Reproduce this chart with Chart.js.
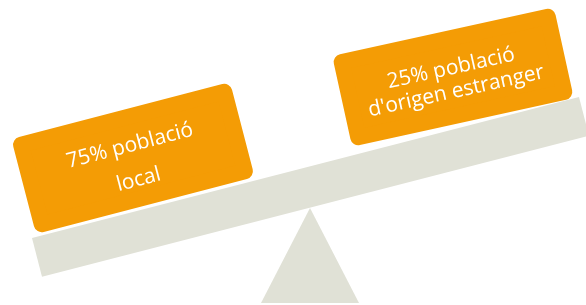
<!DOCTYPE html>
<html lang="ca">
<head>
  <meta charset="UTF-8">
  <title>Població</title>
  <script src="https://cdn.jsdelivr.net/npm/chart.js"></script>
  <style>
    body { margin: 0; background: #fff; }
    .container-chart { width: 586px; height: 305px; position: relative; }
  </style>
</head>
<body>
  <div class="container-chart">
    <canvas id="myChart"></canvas>
  </div>

<script>
  // data
  const grups = ['població local', "població d'origen estranger"];
  const percentatges = [75, 25];
  const linies = [
    [percentatges[0] + '% població', 'local'],
    [percentatges[1] + '% població', "d'origen estranger"]
  ];

  // drawing geometry (pixels on a 586 x 305 grid)
  const biga = { x1: 32, y1: 238, x2: 579, y2: 97, gruix: 40 };
  const suport = { cx: 310, dalt: 208, baix: 303, mitjaAmple: 49 };
  const caixes = [
    { cx: 133, cy: 158, w: 226, h: 98, angle: -14.6, radi: 8, interlinia: 35, despl: 5 },
    { cx: 453, cy: 77, w: 227, h: 93, angle: -12.4, radi: 8, interlinia: 23.5, despl: 3 }
  ];

  const gris = '#e0e1d6';
  const taronja = '#f49c05';

  function punts_biga() {
    const dx = biga.x2 - biga.x1, dy = biga.y2 - biga.y1;
    const len = Math.hypot(dx, dy);
    const nx = -dy / len * biga.gruix, ny = dx / len * biga.gruix;
    return [
      { x: biga.x1, y: biga.y1 },
      { x: biga.x2, y: biga.y2 },
      { x: biga.x2 + nx, y: biga.y2 + ny },
      { x: biga.x1 + nx, y: biga.y1 + ny },
      { x: biga.x1, y: biga.y1 }
    ];
  }

  function punts_suport() {
    return [
      { x: suport.cx, y: suport.dalt },
      { x: suport.cx + suport.mitjaAmple, y: suport.baix },
      { x: suport.cx - suport.mitjaAmple, y: suport.baix },
      { x: suport.cx, y: suport.dalt }
    ];
  }

  // rectangle inset by the radius; a thick round-joined border rounds the corners
  function punts_caixa(c) {
    const a = c.angle * Math.PI / 180;
    const cos = Math.cos(a), sin = Math.sin(a);
    const hw = c.w / 2 - c.radi, hh = c.h / 2 - c.radi;
    const loc = [[-hw, -hh], [hw, -hh], [hw, hh], [-hw, hh], [-hw, -hh]];
    return loc.map(p => ({ x: c.cx + p[0] * cos - p[1] * sin, y: c.cy + p[0] * sin + p[1] * cos }));
  }

  function forma(data, color, order, border) {
    return {
      data: data,
      showLine: true,
      fill: 'shape',
      backgroundColor: color,
      borderColor: color,
      borderWidth: border,
      borderJoinStyle: 'round',
      borderCapStyle: 'round',
      pointRadius: 0,
      tension: 0,
      order: order
    };
  }

  const textos = {
    id: 'textos',
    afterDatasetsDraw(chart) {
      const ctx = chart.ctx;
      const x = chart.scales.x, y = chart.scales.y;
      caixes.forEach((c, i) => {
        ctx.save();
        ctx.translate(x.getPixelForValue(c.cx), y.getPixelForValue(c.cy));
        ctx.rotate(c.angle * Math.PI / 180);
        ctx.fillStyle = '#ffffff';
        ctx.font = '400 21px "Open Sans"';
        ctx.textAlign = 'center';
        ctx.textBaseline = 'middle';
        const n = linies[i].length;
        linies[i].forEach((t, k) => {
          ctx.fillText(t, 0, c.despl + (k - (n - 1) / 2) * c.interlinia);
        });
        ctx.restore();
      });
    }
  };

  new Chart(document.getElementById('myChart'), {
    type: 'scatter',
    data: {
      datasets: [
        forma(punts_caixa(caixes[0]), taronja, 0, caixes[0].radi * 2),
        forma(punts_caixa(caixes[1]), taronja, 0, caixes[1].radi * 2),
        forma(punts_biga(), gris, 1, 0),
        forma(punts_suport(), gris, 2, 0)
      ]
    },
    options: {
      responsive: true,
      maintainAspectRatio: false,
      animation: false,
      layout: { padding: 0 },
      plugins: { legend: { display: false }, tooltip: { enabled: false } },
      scales: {
        x: { type: 'linear', min: 0, max: 586, display: false },
        y: { type: 'linear', min: 0, max: 305, reverse: true, display: false }
      }
    },
    plugins: [textos]
  });
</script>
</body>
</html>
